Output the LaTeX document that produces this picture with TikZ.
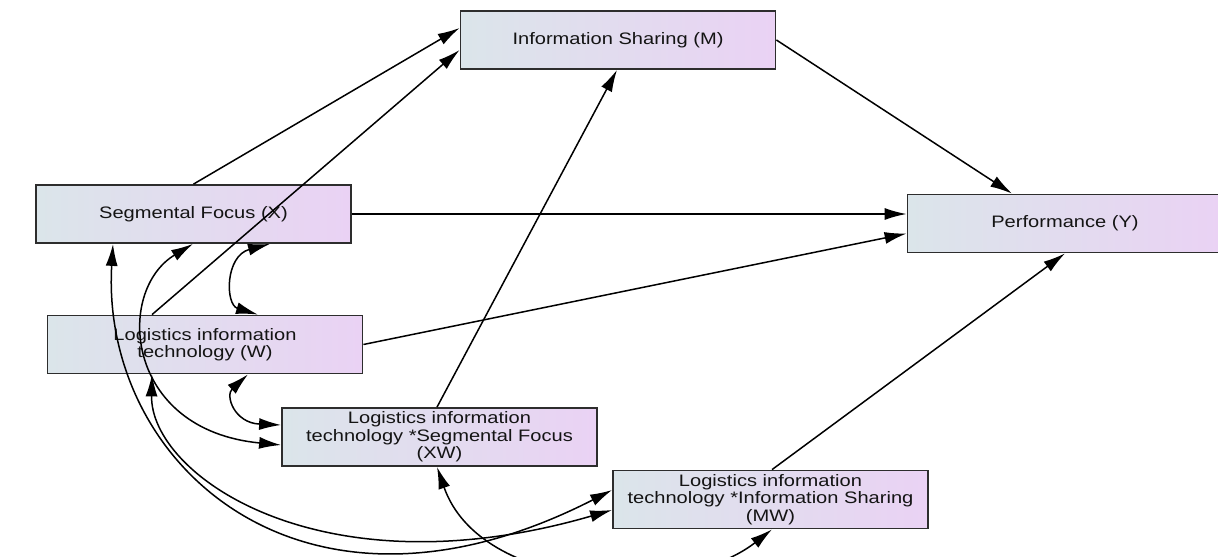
\documentclass[tikz,border=0pt]{standalone}
\usepackage{fontspec}
\setmainfont{Liberation Sans}[FakeStretch=1.21]
\usetikzlibrary{arrows.meta,calc}
\definecolor{boxleft}{RGB}{219,229,234}
\definecolor{boxright}{RGB}{234,210,244}
\definecolor{boxline}{RGB}{45,45,45}
\begin{document}
\begin{tikzpicture}[x=0.5pt,y=-0.5pt,
  vbox/.style={draw=boxline, line width=0.9pt, left color=boxleft, right color=boxright,
    minimum width=157.5pt, minimum height=29pt, inner sep=0pt, align=center,
    font=\fontsize{8.3pt}{8.7pt}\selectfont, text=black!92},
  link/.style={line width=0.75pt, -{Latex[length=11pt,width=6pt]}},
  cov/.style={line width=0.75pt, {Latex[length=11pt,width=6pt]}-{Latex[length=11pt,width=6pt]}}]
\useasboundingbox (0,0) rectangle (1218,556);

\node[vbox] (M) at (618,40) {Information Sharing (M)};
\node[vbox] (X) at (193.5,214) {Segmental Focus (X)};
\node[vbox] (Y) at (1065,223.5) {Performance (Y)};
\node[vbox] (W) at (205,344.5) {Logistics information\\technology (W)};
\node[vbox] (XW) at (439.5,437) {Logistics information\\technology *Segmental Focus\\(XW)};
\node[vbox] (MW) at (770.5,499.5) {Logistics information\\technology *Information Sharing\\(MW)};

% directed paths
\draw[link] (X.north) -- ($(M.west)+(0,-12)$);
\draw[link] ($(W.north)+(-53,0)$) -- ($(M.west)+(0,10)$);
\draw[link] ($(XW.north)+(-2.5,0)$) -- ($(M.south)+(-1,0)$);
\draw[link] (M.east) -- ($(Y.north)+(-53,0)$);
\draw[link] (X.east) -- ($(Y.west)+(0,-9.5)$);
\draw[link] (W.east) -- ($(Y.west)+(0,10)$);
\draw[link] ($(MW.north)+(1.5,0)$) -- (Y.south);

% covariances
\draw[cov] ($(X.south)+(76.5,0)$) .. controls +(-45,12) and +(-33,-10) .. ($(W.north)+(53,0)$);
\draw[cov] ($(W.south)+(43,0)$) .. controls +(-23,21) and +(-47,-2) .. ($(XW.west)+(0,-12)$);
\draw[cov] ($(X.south)+(-0.5,0)$) .. controls +(-78,47) and +(-157,-15) .. ($(XW.west)+(0,8)$);
\draw[cov] ($(X.south)+(-80.5,0)$) .. controls +(-13,217) and +(-313,160) .. ($(MW.west)+(0,-9.5)$);
\draw[cov] ($(W.south)+(-53,0)$) .. controls +(-2,100) and +(-293,85) .. ($(MW.west)+(0,10.5)$);
\draw[cov] ($(XW.south)+(-2.5,0)$) .. controls +(43,124) and +(-92,72) .. ($(MW.south)+(1.5,0)$);
\end{tikzpicture}
\end{document}
